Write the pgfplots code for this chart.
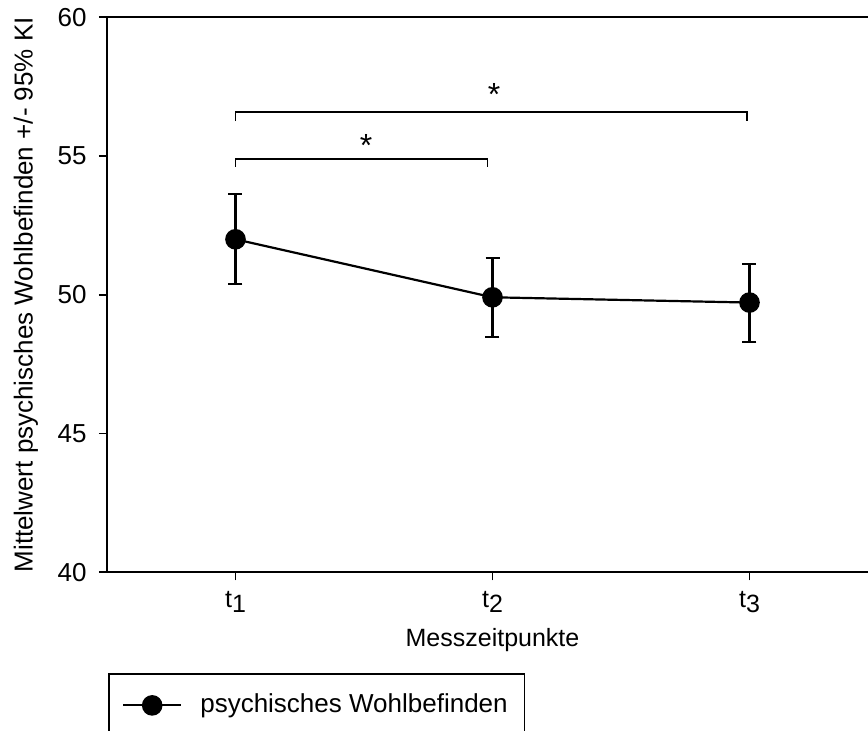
\documentclass[border=0pt]{standalone}
\usepackage{pgfplots}
\pgfplotsset{compat=1.18}
\usepackage{fontspec}
\setmainfont{Liberation Sans}
\begin{document}
\fontsize{12.5}{15}\selectfont
\begin{tikzpicture}
\begin{axis}[
  at={(0,0)}, anchor=south west,
  scale only axis, width=385.5pt, height=277.5pt,
  xmin=0.5, xmax=3.5, ymin=40, ymax=60,
  xtick={1,2,3},
  xticklabels={t\raisebox{-2.5pt}{1}, t\raisebox{-2.5pt}{2}, t\raisebox{-2.5pt}{3}},
  ytick={40,45,50,55,60},
  yticklabels={{\fontsize{13}{15}\selectfont 40},{\fontsize{13}{15}\selectfont 45},{\fontsize{13}{15}\selectfont 50},{\fontsize{13}{15}\selectfont 55},{\fontsize{13}{15}\selectfont 60}},
  xtick pos=bottom, ytick pos=left,
  tick align=outside, major tick length=4pt,
  tick style={line width=0.8pt, black},
  axis line style={line width=0.8pt},
  tick label style={font=\fontsize{12.5}{15}\selectfont},
  yticklabel style={xshift=-1.8pt},
  xticklabel style={yshift=-1pt},
  xlabel={Messzeitpunkte},
  ylabel={Mittelwert psychisches Wohlbefinden +/- 95\% KI},
  every axis x label/.style={at={(rel axis cs:0.5,0)}, anchor=center, yshift=-34pt, font=\fontsize{12.5}{15}\selectfont},
  every axis y label/.style={at={(rel axis cs:0,0.5)}, xshift=-40.5pt, rotate=90, anchor=center, font=\fontsize{13}{15}\selectfont},
  legend style={at={(rel axis cs:0,0)}, anchor=north west, xshift=0.65pt, yshift=-50.5pt,
    draw=black, line width=0.8pt, inner xsep=6.5pt, inner ysep=8pt,
    font=\fontsize{13}{15}\selectfont,
    /tikz/every odd column/.style={column sep=7pt}},
  legend cell align=left,
  legend image code/.code={\draw[mark repeat=2,mark phase=2,#1] plot coordinates {(0pt,0pt) (14.5pt,0pt) (29pt,0pt)};},
  clip=false,
]
\coordinate (bl) at (rel axis cs:0,0);
\addplot[black, line width=1.1pt, mark=*, mark size=4.6pt,
  error bars/.cd, y dir=both, y explicit,
  error bar style={line width=1.1pt, solid},
  error mark options={rotate=90, mark size=3.5pt, line width=1.1pt}]
coordinates {
  (1,52.00) += (0,1.63) -= (0,1.62)
  (2,49.91) += (0,1.43) -= (0,1.44)
  (3,49.72) += (0,1.40) -= (0,1.43)
};
\addlegendentry{psychisches Wohlbefinden}
\addplot[black, line width=0.85pt, forget plot] coordinates {(1,54.62) (1,54.90) (1.98,54.90) (1.98,54.62)};
\addplot[black, line width=0.85pt, forget plot] coordinates {(1,56.26) (1,56.58) (2.99,56.58) (2.99,56.26)};
\node[anchor=base, font=\fontsize{16}{18}\selectfont] at (axis cs:1.508,54.98) {*};
\node[anchor=base, font=\fontsize{16}{18}\selectfont] at (axis cs:2.006,56.82) {*};
\end{axis}
\pgfresetboundingbox
\useasboundingbox ([shift={(-53.5pt,-79.35pt)}]bl) rectangle ([shift={(380.5pt,286.15pt)}]bl);
\end{tikzpicture}
\end{document}
